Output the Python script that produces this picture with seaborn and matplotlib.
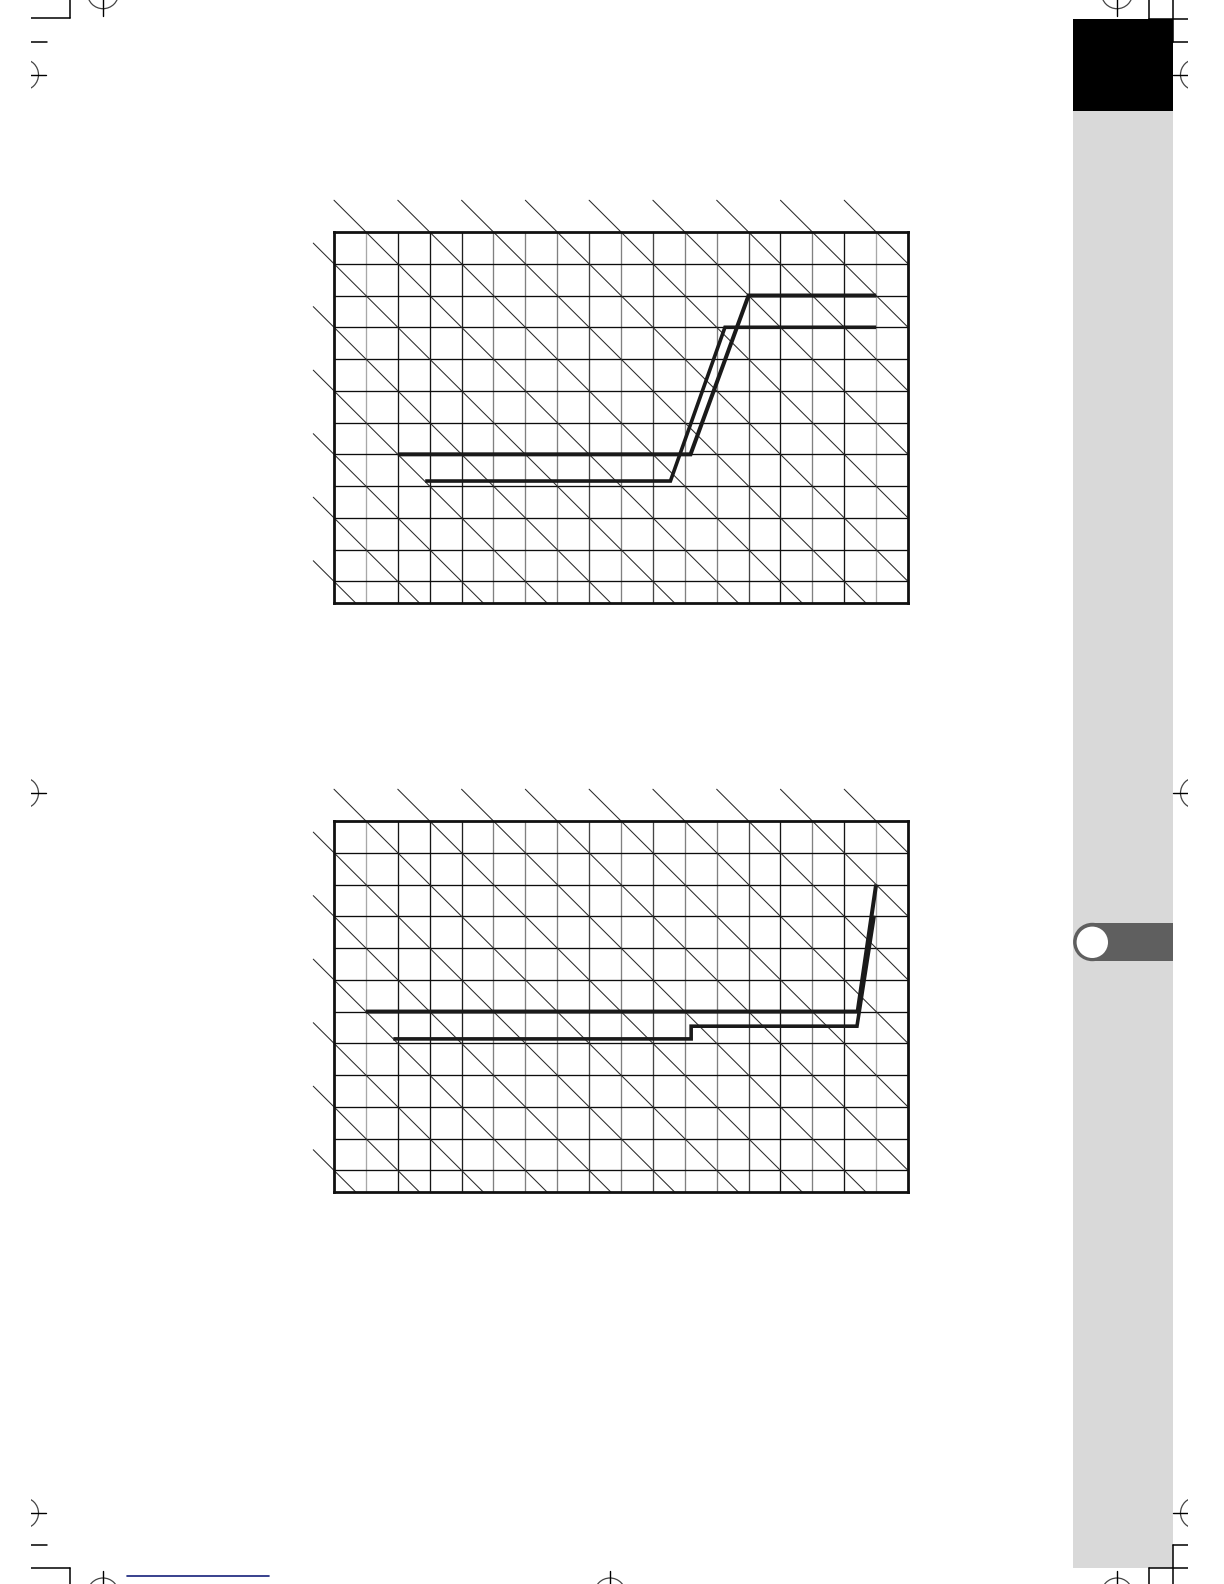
import numpy as np
import pandas as pd
import matplotlib
matplotlib.use("Agg")
import matplotlib.pyplot as plt
import seaborn as sns
from matplotlib.patches import Rectangle, Circle

sns.set_theme(style="white")

W, H = 1224, 1584

# --- grid in cell units (bottom row only partly shown) ---
N_COLS = 18
N_ROWS = 11.68

# --- program lines, x = column, y = row counted from the top ---
top_a_x = [2.0, 11.18, 13.0, 17.0]
top_a_y = [7.0, 7.0, 2.0, 2.0]
top_b_x = [2.86, 10.55, 12.26, 17.0]
top_b_y = [7.84, 7.84, 3.0, 3.0]

bot_a_x = [1.0, 16.42, 17.0]
bot_a_y = [6.0, 6.0, 2.0]
bot_b_x = [1.86, 11.2, 11.2, 16.4, 16.94]
bot_b_y = [6.86, 6.86, 6.46, 6.46, 2.98]

# shade of each inner vertical grid line (col 1..17), as printed
VLINE_SHADES = ['#a8a8a8', '#151515', '#151515', '#202020', '#808080', '#808080',
                '#808080', '#444444', '#808080', '#444444', '#808080', '#808080',
                '#444444', '#151515', '#808080', '#151515', '#a8a8a8']


def draw_grid(ax):
    for c in range(1, N_COLS):
        ax.axvline(c, color=VLINE_SHADES[c - 1], lw=0.95, zorder=1)
    for r in range(1, int(N_ROWS) + 1):
        ax.axhline(r, color='#0d0d0d', lw=0.95, zorder=1)
    # diagonal lines, one every two cells, sticking out at top and left
    for k in range(-11, N_COLS, 2):
        if k > 0:
            x0 = k - 1
        else:
            x0 = -0.65
        x1 = min(N_COLS, N_ROWS + k)
        ax.plot([x0, x1], [x0 - k, x1 - k], color='#2a2a2a', lw=0.75,
                clip_on=False, zorder=2)


def draw_chart(ax, lines):
    draw_grid(ax)
    for xs, ys, lw in lines:
        df = pd.DataFrame({"x": xs, "y": ys})
        sns.lineplot(data=df, x="x", y="y", ax=ax, sort=False, estimator=None,
                     color='#1a1a1a', lw=lw, zorder=4,
                     solid_capstyle='butt', solid_joinstyle='miter')
    ax.set_xlim(0, N_COLS)
    ax.set_ylim(N_ROWS, 0)
    ax.set_xticks([])
    ax.set_yticks([])
    ax.set_xlabel('')
    ax.set_ylabel('')
    for s in ax.spines.values():
        s.set_visible(True)
        s.set_color('#111111')
        s.set_linewidth(2.0)
        s.set_zorder(5)


fig = plt.figure(figsize=(W / 100, H / 100), dpi=100, facecolor='white')

# --- page furniture (crop marks, side strip) ---
page = fig.add_axes([31 / W, 0, (1188 - 31) / W, 1])
page.set_xlim(31, 1188)
page.set_ylim(H, 0)
page.axis('off')

page.add_patch(Rectangle((1073, 19), 100, 1549, color='#d9d9d9', lw=0))
page.add_patch(Rectangle((1073, 19), 100, 91.7, color='black', lw=0))
page.add_patch(Rectangle((1092.3, 922.8), 80.7, 38.4, color='#5f5f5f', lw=0))
page.add_patch(Circle((1092.3, 942), 19.2, color='#5f5f5f', lw=0))
page.add_patch(Circle((1092.3, 942.3), 15.7, color='white', lw=0))

mark_kw = dict(color='black', lw=1.1)
crop_segs = [
    ([31, 70], [18.3, 18.3]), ([70, 70], [0, 18.3]),
    ([31, 47], [42, 42]),
    ([1149, 1149], [0, 19]), ([1149, 1188], [19, 19]),
    ([1173, 1173], [0, 42]), ([1173, 1188], [42, 42]),
    ([31, 47], [1545, 1545]),
    ([31, 70], [1568, 1568]), ([70, 70], [1568, H]),
    ([1173, 1173], [1545, H]), ([1173, 1188], [1545, 1545]),
    ([1149, 1188], [1568, 1568]), ([1149, 1149], [1568, H]),
]
for xs, ys in crop_segs:
    page.plot(xs, ys, **mark_kw)

reg_marks = [(103, -6.8), (1117, -6.8), (23, 74.7), (1196, 74.7),
             (23, 793), (1196, 793), (23, 1513), (1196, 1513),
             (103, 1593.5), (610, 1593.5), (1117, 1593.5)]
for cx, cy in reg_marks:
    page.add_patch(Circle((cx, cy), 15.5, fill=False, ec='#444444', lw=0.9))
    page.plot([cx - 23, cx + 23], [cy, cy], color='black', lw=1.0)
    page.plot([cx, cx], [cy - 23, cy + 23], color='black', lw=1.0)

page.plot([127, 269], [1575.5, 1575.5], color='#15207a', lw=1.2)

# --- the two program line charts ---
ax_top = fig.add_axes([334 / W, 1 - 603 / H, 574 / W, 371 / H])
ax_top.patch.set_alpha(0)
draw_chart(ax_top, [(top_a_x, top_a_y, 2.9), (top_b_x, top_b_y, 2.6)])

ax_bot = fig.add_axes([334 / W, 1 - 1192 / H, 574 / W, 371 / H])
ax_bot.patch.set_alpha(0)
draw_chart(ax_bot, [(bot_a_x, bot_a_y, 2.9), (bot_b_x, bot_b_y, 2.6)])

fig.savefig("out.png", dpi=100, facecolor='white')
